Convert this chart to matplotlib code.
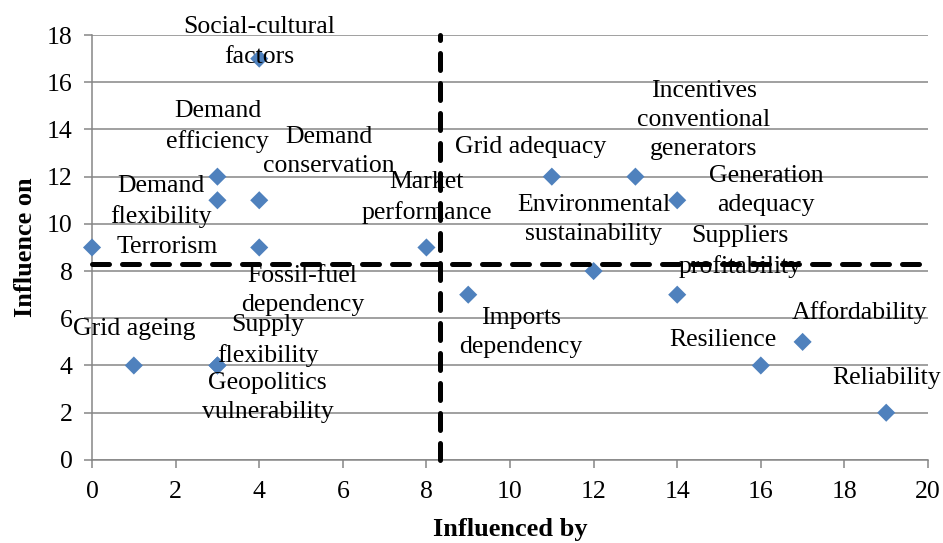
import numpy as np
import matplotlib
matplotlib.use('Agg')
import matplotlib.pyplot as plt

# data
names = ['Social-cultural\nfactors', 'Demand\nefficiency', 'Demand\nconservation',
         'Demand\nflexibility', 'Terrorism', 'Fossil-fuel\ndependency',
         'Market\nperformance', 'Grid adequacy', 'Incentives\nconventional\ngenerators',
         'Generation\nadequacy', 'Environmental\nsustainability', 'Suppliers\nprofitability',
         'Imports\ndependency', 'Grid ageing', 'Supply\nflexibility',
         'Geopolitics\nvulnerability', 'Resilience', 'Affordability', 'Reliability']
influenced_by = [4, 3, 4, 3, 0, 4, 8, 11, 13, 14, 12, 14, 9, 1, 3, 3, 16, 17, 19]
influence_on = [17, 12, 11, 11, 9, 9, 9, 12, 12, 11, 8, 7, 7, 4, 4, 4, 4, 5, 2]

# label offsets (points) relative to each marker
label_offsets = [(0, 12), (0, 36), (50, 35), (-41, -1), (54, 0), (31, -31),
                 (0, 36), (-15, 21), (49, 41), (64, 7), (0, 37), (45, 31),
                 (38, -27), (0, 26), (36, 18), (36, -23), (-27, 18), (41, 21), (0, 25)]

plt.rcParams['font.family'] = ['Liberation Serif', 'DejaVu Serif']

fig = plt.figure(figsize=(9.43, 5.43), dpi=100)
ax = fig.add_axes([0.0976, 0.153, 0.8865, 0.7825])

grey = '#868686'
ax.scatter(influenced_by, influence_on, marker='D', s=85, color='#4F81BD',
           edgecolors='none', zorder=3, clip_on=False)

for name, x, y, off in zip(names, influenced_by, influence_on, label_offsets):
    ax.annotate(name, (x, y), xytext=off, textcoords='offset points',
                ha='center', va='center', fontsize=18.5, linespacing=1.42,
                zorder=4, annotation_clip=False)

#均值线
mx = np.mean(influenced_by)
my = np.mean(influence_on)
ax.axvline(mx, color='black', lw=3.6, dashes=(3.4, 2.6), dash_capstyle='round',
           zorder=5, clip_on=False)
ax.axhline(my, color='black', lw=3.6, dashes=(3.4, 2.6), dash_capstyle='round',
           zorder=5, clip_on=False)

ax.set_xlim(0, 20)
ax.set_ylim(0, 18)
ax.set_xticks(np.arange(0, 21, 2))
ax.set_yticks(np.arange(0, 19, 2))
ax.yaxis.grid(True, color=grey, lw=1.1)
ax.set_axisbelow(True)
for s in ['top', 'right']:
    ax.spines[s].set_visible(False)
for s in ['left', 'bottom']:
    ax.spines[s].set_color(grey)
    ax.spines[s].set_linewidth(1.1)
ax.tick_params(axis='both', colors=grey, labelcolor='black', labelsize=18.5,
               length=6, width=1.1, direction='out')
ax.tick_params(axis='x', pad=9)
ax.tick_params(axis='y', pad=8)

ax.set_xlabel('Influenced by', fontsize=19, fontweight='bold', labelpad=11)
ax.set_ylabel('Influence on', fontsize=19, fontweight='bold', labelpad=7)

fig.savefig('out.png', dpi=100)
